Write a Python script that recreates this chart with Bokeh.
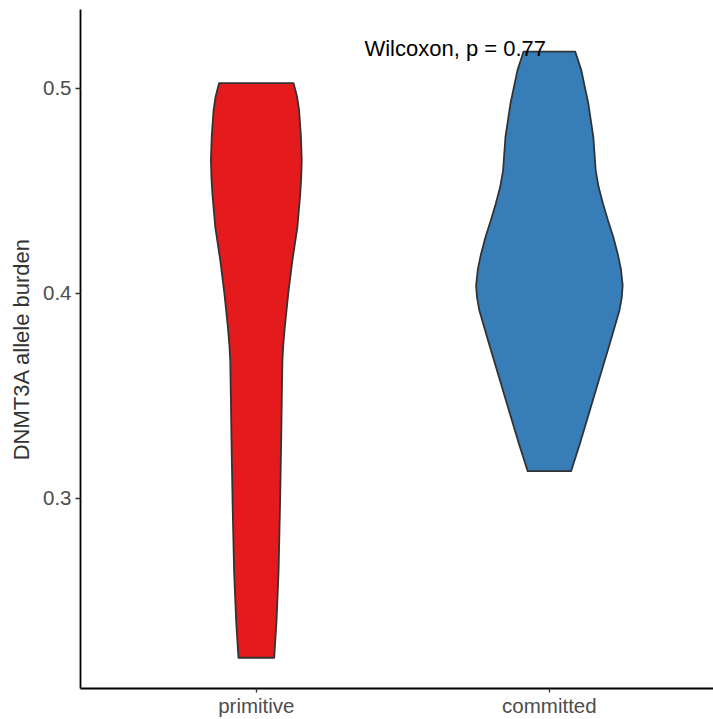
from bokeh.plotting import figure
from bokeh.models import Range1d, FixedTicker
from bokeh.embed import file_html
from bokeh.resources import INLINE
from bokeh.core.properties import value

# ---- data ----
groups = ["primitive", "committed"]
colors = ["#E41A1C", "#377EB8"]

# violin outlines: y level and half-width (in x units)
prim_y = [0.5026, 0.4960, 0.4893, 0.4770, 0.4649, 0.4560, 0.4488, 0.4322, 0.4161, 0.4000,
          0.3834, 0.3750, 0.3673, 0.3500, 0.3298, 0.2976, 0.2649, 0.2405, 0.2223]
prim_w = [0.127, 0.139, 0.146, 0.152, 0.155, 0.153, 0.150, 0.140, 0.123, 0.109,
          0.097, 0.092, 0.089, 0.087, 0.085, 0.081, 0.076, 0.069, 0.061]

comm_y = [0.5180, 0.5088, 0.4925, 0.4762, 0.4600, 0.4519, 0.4438, 0.4356, 0.4275, 0.4194,
          0.4120, 0.4039, 0.3980, 0.3917, 0.3755, 0.3592, 0.3429, 0.3267, 0.3133]
comm_w = [0.088, 0.109, 0.133, 0.150, 0.158, 0.168, 0.183, 0.200, 0.218, 0.233,
          0.244, 0.250, 0.247, 0.239, 0.206, 0.172, 0.138, 0.104, 0.074]

y_ticks = [0.3, 0.4, 0.5]
y_tick_labels = ["0.3", "0.4", "0.5"]
p_label = "Wilcoxon, p = 0.77"

# ---- figure ----
p = figure(width=713, height=719, output_backend="svg", toolbar_location=None,
           x_range=Range1d(0.4, 2.56), y_range=Range1d(0.2073, 0.5385),
           min_border_left=80, min_border_right=0, min_border_top=9,
           min_border_bottom=31)
p.outline_line_color = None
p.grid.visible = False
p.background_fill_color = "white"
p.border_fill_color = "white"

profiles = [(prim_y, prim_w), (comm_y, comm_w)]
for i, (ys, ws) in enumerate(profiles):
    c = i + 1
    xs = [c - w for w in ws] + [c + w for w in reversed(ws)]
    yy = list(ys) + list(reversed(ys))
    p.patch(xs, yy, fill_color=colors[i], line_color="#333333", line_width=1.8,
            line_join="round")

p.text(x=[1.369], y=[0.5195], text=[p_label], text_font=value("Liberation Sans"),
       text_font_size="22px", text_color="black", text_baseline="alphabetic",
       text_align="left")

# axes
p.xaxis.ticker = FixedTicker(ticks=[1, 2])
p.xaxis.major_label_overrides = {1: groups[0], 2: groups[1]}
p.yaxis.ticker = FixedTicker(ticks=y_ticks)
p.yaxis.major_label_overrides = {t: l for t, l in zip(y_ticks, y_tick_labels)}
p.yaxis.axis_label = "DNMT3A allele burden"

for ax in (p.xaxis[0], p.yaxis[0]):
    ax.axis_line_color = "black"
    ax.axis_line_width = 1.8
    ax.major_tick_line_color = "#333333"
    ax.major_tick_line_width = 1.3
    ax.major_tick_out = 5
    ax.major_tick_in = 0
    ax.minor_tick_line_color = None
    ax.major_label_text_font = "Liberation Sans"
    ax.major_label_text_font_size = "20.5px"
    ax.major_label_text_color = "#4D4D4D"
    ax.major_label_standoff = 4

p.xaxis.major_tick_out = 4
p.xaxis.major_label_standoff = 1

p.yaxis.axis_label_text_font = "Liberation Sans"
p.yaxis.axis_label_text_font_size = "22px"
p.yaxis.axis_label_text_font_style = "normal"
p.yaxis.axis_label_text_color = "#333333"
p.yaxis.axis_label_standoff = 6

open("out.html", "w").write(file_html(p, INLINE))
